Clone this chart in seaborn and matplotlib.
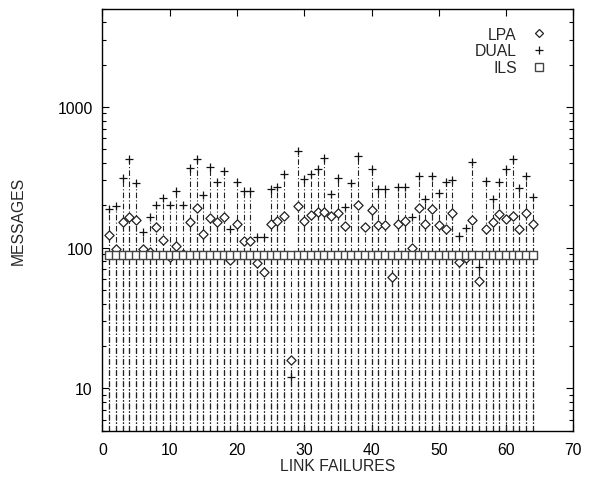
import pandas as pd
import matplotlib
matplotlib.use('Agg')
import matplotlib.pyplot as plt
import seaborn as sns
from matplotlib.lines import Line2D
from matplotlib.ticker import LogLocator, NullFormatter, FixedLocator

# link failure index
failures = list(range(1, 65))

lpa = [122, 98, 152, 166, 157, 98, 93, 141, 113, 86,
       102, 90, 152, 191, 124, 162, 152, 166, 82, 147,
       111, 111, 78, 67, 146, 154, 168, 16, 198, 155,
       171, 179, 179, 168, 177, 143, 89, 200, 139, 185,
       144, 144, 62, 146, 154, 99, 191, 146, 187, 144,
       135, 175, 79, 85, 157, 58, 135, 152, 173, 159,
       168, 136, 175, 147]

dual = [187, 196, 312, 423, 289, 129, 164, 202, 225, 200,
        251, 200, 367, 428, 238, 375, 292, 348, 135, 292,
        251, 251, 118, 118, 260, 268, 336, 12, 488, 308,
        336, 363, 436, 240, 312, 195, 286, 447, 89, 359,
        259, 259, 89, 268, 268, 164, 322, 223, 322, 243,
        292, 302, 121, 138, 405, 73, 299, 220, 292, 359,
        423, 265, 322, 228]

ils = [89] * 64

df = pd.DataFrame({'failures': failures, 'LPA': lpa, 'DUAL': dual, 'ILS': ils})

sns.set_style('ticks')
plt.rcParams['font.family'] = ['Liberation Sans', 'DejaVu Sans']

fig = plt.figure(figsize=(5.9, 4.85), dpi=100)
ax = fig.add_axes([0.1737, 0.1099, 0.7980, 0.8705])
ax.set_yscale('log')
ax.set_xlim(0, 70)
ax.set_ylim(5, 5000)

dashdot = (0, (5, 2, 1, 2))

# impulses from the bottom of the axis, gnuplot style
for col, z in [('LPA', 1), ('DUAL', 2), ('ILS', 3)]:
    ax.vlines(df['failures'], 5, df[col], colors='#222222', linewidth=0.8,
              linestyles=[dashdot], zorder=z)

sns.scatterplot(data=df, x='failures', y='LPA', ax=ax, marker='D', s=22,
                color='white', edgecolor='#222222', linewidth=0.9, zorder=4)
sns.scatterplot(data=df, x='failures', y='DUAL', ax=ax, marker='+', s=40,
                color='#111111', linewidth=0.9, zorder=5)
sns.scatterplot(data=df, x='failures', y='ILS', ax=ax, marker='s', s=28,
                color='white', edgecolor='#444444', linewidth=1.0, zorder=6)

ax.set_xticks(range(0, 71, 10))
ax.yaxis.set_major_locator(FixedLocator([10, 100, 1000]))
ax.set_yticklabels(['10', '100', '1000'])
ax.yaxis.set_minor_locator(LogLocator(base=10, subs=range(2, 10)))
ax.yaxis.set_minor_formatter(NullFormatter())
ax.tick_params(which='both', direction='in', top=True, right=True, labelsize=11.3,
               color='black', labelcolor='black')
ax.tick_params(which='major', length=5, width=0.8)
ax.tick_params(which='minor', length=3, width=0.8)
ax.tick_params(axis='x', pad=8)
ax.tick_params(axis='y', pad=7)
for sp in ax.spines.values():
    sp.set_linewidth(1.0)
    sp.set_color('black')

ax.set_xlabel('LINK FAILURES', fontsize=11.3, labelpad=1)
ax.set_ylabel('MESSAGES', fontsize=11.3, labelpad=23)

handles = [
    Line2D([], [], marker='D', ls='none', mfc='white', mec='#222222', ms=4.5, mew=0.9),
    Line2D([], [], marker='+', ls='none', color='#111111', ms=6.3, mew=0.9),
    Line2D([], [], marker='s', ls='none', mfc='white', mec='#444444', ms=5.3, mew=1.0),
]
ax.legend(handles, ['LPA', 'DUAL', 'ILS'], loc='upper right', markerfirst=False,
          frameon=False, fontsize=11.3, handlelength=1.2, handletextpad=0.8,
          labelspacing=0.12, borderaxespad=0.75, bbox_to_anchor=(0.985, 1.0))

fig.savefig('out.png', dpi=100)
